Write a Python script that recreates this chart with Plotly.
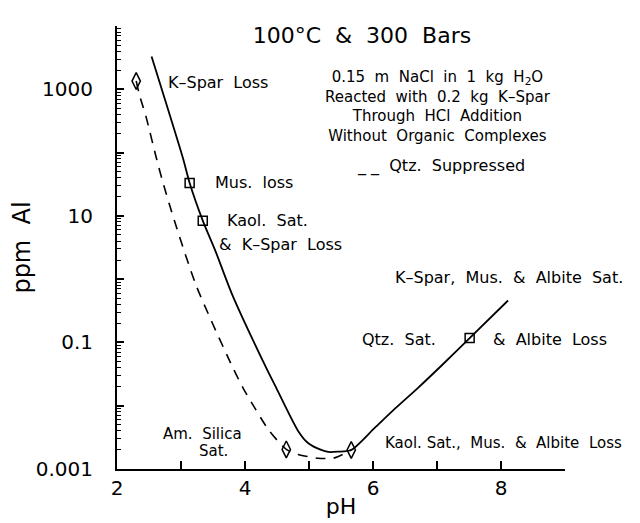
import plotly.graph_objects as go
import math

# ---- data (pH, ppm Al) ----
solid_ph = [2.54, 3.03, 3.135, 3.34, 3.54, 3.80, 4.33, 4.49, 4.83, 4.98, 5.19, 5.30, 5.45, 5.66,
            6.03, 6.36, 6.70, 7.08, 7.51, 8.11]
solid_ppm = [3300, 82, 33, 8.4, 2.75, 0.57, 0.040, 0.019, 0.004, 0.0026, 0.002, 0.00186, 0.00188,
             0.0020, 0.0045, 0.0093, 0.019, 0.044, 0.117, 0.46]

dash_ph = [2.30, 2.35, 2.45, 2.615, 2.72, 2.90, 3.24, 3.79, 3.97, 4.15, 4.38, 4.645, 4.83, 5.14,
           5.40, 5.66]
dash_ppm = [1350, 820, 380, 82, 33, 8.2, 0.78, 0.044, 0.019, 0.0093, 0.004, 0.00204, 0.0017,
            0.00148, 0.0015, 0.0020]

square_ph = [3.135, 3.34, 7.51]
square_ppm = [33, 8.4, 0.117]

diamond_ph = [2.30, 4.645, 5.66]
diamond_ppm = [1350, 0.00204, 0.0020]

y_tickvals = [0.001, 0.01, 0.1, 1, 10, 100, 1000, 10000]
y_ticktext = ["0.001", "", "0.1", "", "10", "", "1000", ""]
y_minor_vals = [d * 10 ** e for e in range(-3, 4) for d in range(2, 10)]
x_tickvals = [2, 3, 4, 5, 6, 7, 8, 9]
x_ticktext = ["2", "", "4", "", "6", "", "8", ""]

FONT = "DejaVu Sans"

fig = go.Figure()
fig.add_trace(go.Scatter(x=solid_ph, y=solid_ppm, mode="lines",
                         line=dict(color="black", width=1.8, shape="spline", smoothing=0.7),
                         showlegend=False))
fig.add_trace(go.Scatter(x=dash_ph, y=dash_ppm, mode="lines",
                         line=dict(color="black", width=1.6, dash="10px,8px", shape="spline",
                                   smoothing=0.7), showlegend=False))
fig.add_trace(go.Scatter(x=square_ph, y=square_ppm, mode="markers",
                         marker=dict(symbol="square-open", size=9, color="black",
                                     line=dict(width=1.5, color="black")), showlegend=False))
fig.add_trace(go.Scatter(x=diamond_ph, y=diamond_ppm, mode="markers",
                         marker=dict(symbol="diamond-tall-open", size=12, color="black",
                                     line=dict(width=1.5, color="black")), showlegend=False))

def ann(text, x, logy, xanchor="left", size=16):
    fig.add_annotation(x=x, y=logy, text=text, showarrow=False, xanchor=xanchor,
                       yanchor="middle", font=dict(family=FONT, size=size, color="black"))

ann("K\u2013Spar  Loss", 2.77, 3.115)
ann("0.15  m  NaCl  in  1  kg  H<sub>2</sub>O<br>Reacted  with  0.2  kg  K\u2013Spar<br>"
    "Through  HCl  Addition<br>Without  Organic  Complexes", 7.02, 2.735, "center", 15)
ann("_ _  Qtz.  Suppressed", 5.72, 1.79)
ann("Mus.  loss", 3.50, 1.52)
ann("Kaol.  Sat.", 3.69, 0.92)
ann("&  K\u2013Spar  Loss", 3.56, 0.54)
ann("K\u2013Spar,  Mus.  &  Albite  Sat.", 6.31, 0.02)
ann("Qtz.  Sat.", 5.80, -0.96)
ann("&  Albite  Loss", 7.84, -0.96)
ann("Am.  Silica", 3.34, -2.445, "center", 15)
ann("Sat.", 3.50, -2.71, "center", 15)
ann("Kaol. Sat.,  Mus.  &  Albite  Loss", 6.16, -2.59, "left", 15)

fig.update_layout(
    width=640, height=523,
    margin=dict(l=109, r=83, t=18, b=62),
    paper_bgcolor="white", plot_bgcolor="white",
    font=dict(family=FONT, color="black"),
    title=dict(text="100\u00b0C  &  300  Bars", x=0.553, y=0.948, xanchor="center",
               yanchor="middle", font=dict(family=FONT, size=22, color="black")),
    showlegend=False,
)
fig.update_xaxes(range=[2, 9], tickmode="array", tickvals=x_tickvals, ticktext=x_ticktext,
                 ticks="inside", ticklen=8, tickwidth=1.5, tickcolor="black", automargin=False,
                 showline=True, linewidth=2, linecolor="black", showgrid=False, zeroline=False,
                 tickfont=dict(family=FONT, size=20, color="black"),
                 title=dict(text="pH", font=dict(family=FONT, size=22, color="black"), standoff=0))
fig.update_yaxes(type="log", range=[-3, 4], tickmode="array", tickvals=y_tickvals,
                 ticktext=y_ticktext, ticks="inside", ticklen=7, tickwidth=1.5, tickcolor="black",
                 automargin=False,
                 showline=True, linewidth=2, linecolor="black", showgrid=False, zeroline=False,
                 tickfont=dict(family=FONT, size=20, color="black"), ticklabelstandoff=18,
                 minor=dict(ticks="inside", ticklen=4, tickwidth=1, tickcolor="black",
                            tickmode="array", tickvals=y_minor_vals, showgrid=False),
                 title=dict(text="ppm  Al", font=dict(family=FONT, size=24, color="black"),
                            standoff=0))

fig.write_html("out.html")
